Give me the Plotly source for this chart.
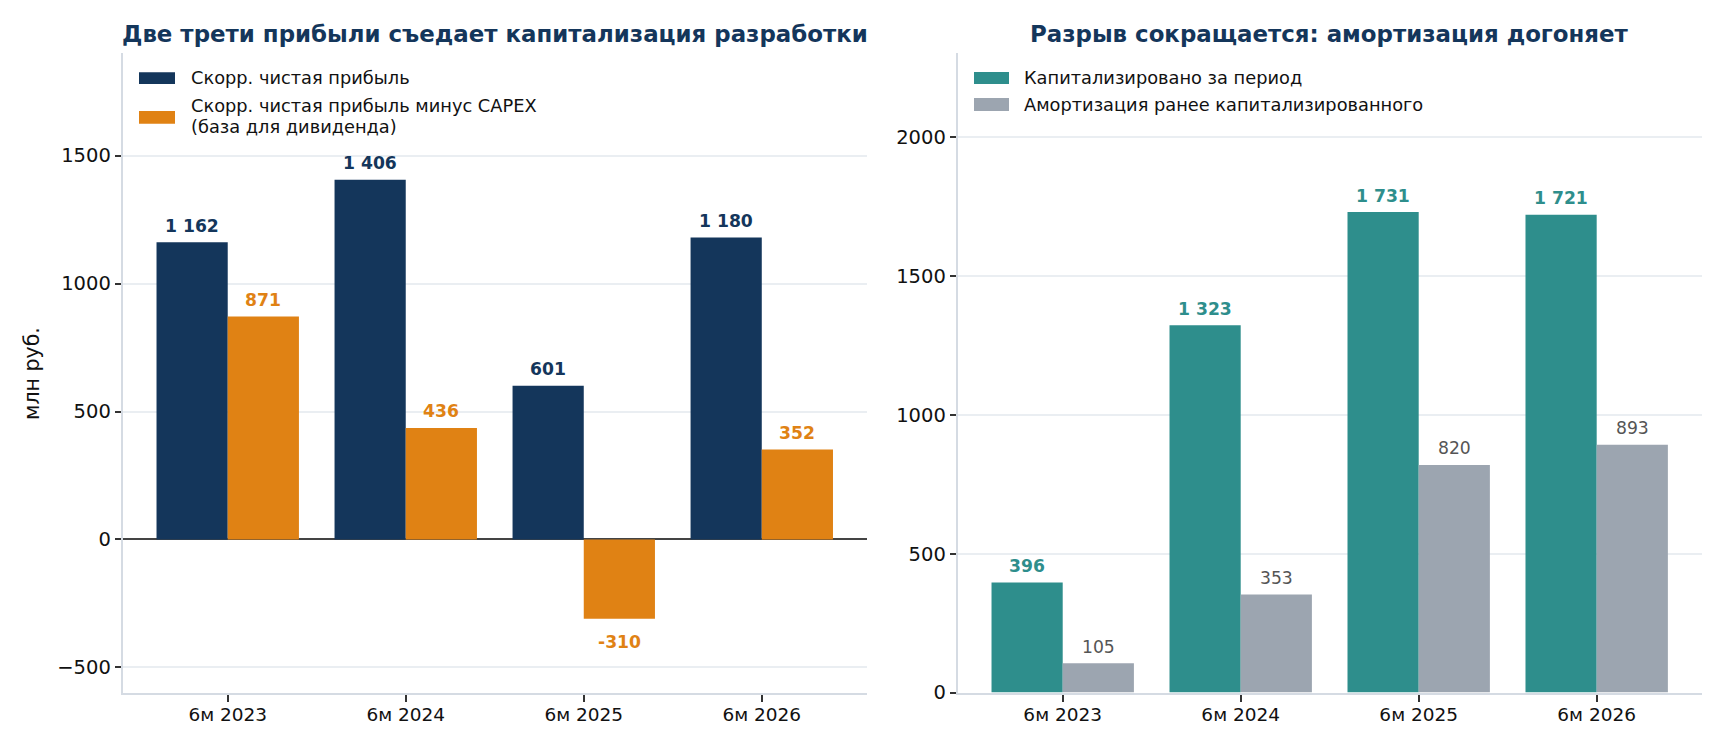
import plotly.graph_objects as go

# data (млн руб.)
categories = ["6м 2023", "6м 2024", "6м 2025", "6м 2026"]
adj_net_profit = [1162, 1406, 601, 1180]
profit_minus_capex = [871, 436, -310, 352]
capitalized = [396, 1323, 1731, 1721]
amortization = [105, 353, 820, 893]

left_title = "Две трети прибыли съедает капитализация разработки"
right_title = "Разрыв сокращается: амортизация догоняет"
y_label = "млн руб."

NAVY = "#14365B"
ORANGE = "#E08214"
TEAL = "#2E8E8C"
GREY = "#9CA5B0"
GREY_TXT = "#555555"
SPINE = "#D5DBE3"
GRID = "#EAEEF2"
FONT = "DejaVu Sans"

# page body has an 8px margin, so the figure is shrunk and positions shifted
PAD = 8
W, H = 1725 - 2 * PAD, 750 - 2 * PAD


def px_x(p):
    return (p - PAD) / W


def px_y(p):
    return 1 - (p - PAD) / H


def fmt(v):
    return f"{v:,}".replace(",", " ")


pos = list(range(len(categories)))

fig = go.Figure()

# left panel
fig.add_trace(go.Bar(x=pos, y=adj_net_profit, offset=-0.4, width=0.4,
                     marker=dict(color=NAVY, line_width=0), xaxis="x", yaxis="y",
                     hoverinfo="skip"))
fig.add_trace(go.Bar(x=pos, y=profit_minus_capex, offset=0, width=0.4,
                     marker=dict(color=ORANGE, line_width=0), xaxis="x", yaxis="y",
                     hoverinfo="skip"))
# right panel
fig.add_trace(go.Bar(x=pos, y=capitalized, offset=-0.4, width=0.4,
                     marker=dict(color=TEAL, line_width=0), xaxis="x2", yaxis="y2",
                     hoverinfo="skip"))
fig.add_trace(go.Bar(x=pos, y=amortization, offset=0, width=0.4,
                     marker=dict(color=GREY, line_width=0), xaxis="x2", yaxis="y2",
                     hoverinfo="skip"))

annotations = []


def bar_labels(values, shift, color, bold, xref, yref):
    for i, v in enumerate(values):
        txt = fmt(v) if v >= 0 else "-" + fmt(-v)
        annotations.append(dict(
            x=i + shift, y=v, xref=xref, yref=yref, showarrow=False,
            text=f"<b>{txt}</b>" if bold else txt,
            font=dict(family=FONT, size=17.2, color=color),
            xanchor="center", yanchor="middle",
            yshift=16.5 if v >= 0 else -22.7,
        ))


bar_labels(adj_net_profit, -0.2, NAVY, True, "x", "y")
bar_labels(profit_minus_capex, 0.2, ORANGE, True, "x", "y")
bar_labels(capitalized, -0.2, TEAL, True, "x2", "y2")
bar_labels(amortization, 0.2, GREY_TXT, False, "x2", "y2")

# titles
for txt, cx in [(left_title, (122.7 + 866.8) / 2), (right_title, (957.7 + 1701.7) / 2)]:
    annotations.append(dict(
        x=px_x(cx), y=px_y(34), xref="paper", yref="paper", showarrow=False,
        text=f"<b>{txt}</b>", font=dict(family=FONT, size=22.9, color=NAVY),
        xanchor="center", yanchor="middle",
    ))

# y axis label
annotations.append(dict(
    x=px_x(32), y=px_y(374), xref="paper", yref="paper", showarrow=False,
    text=y_label, textangle=-90, font=dict(family=FONT, size=20.5, color="#111111"),
    xanchor="center", yanchor="middle",
))

# legends (matplotlib-style wide swatches)
shapes = []
legend_items = [
    (139, 175, 72.3, 84, NAVY, 189, [("Скорр. чистая прибыль", 78)]),
    (139, 175, 111, 123.7, ORANGE, 189,
     [("Скорр. чистая прибыль минус CAPEX", 106), ("(база для дивиденда)", 126.7)]),
    (974, 1009, 72, 84, TEAL, 1022, [("Капитализировано за период", 78)]),
    (974, 1009, 98, 111, GREY, 1022, [("Амортизация ранее капитализированного", 104.5)]),
]
for x0, x1, y0, y1, col, tx, lines in legend_items:
    shapes.append(dict(type="rect", xref="paper", yref="paper",
                       x0=px_x(x0), x1=px_x(x1), y0=px_y(y1), y1=px_y(y0),
                       fillcolor=col, line_width=0))
    for line, ty in lines:
        annotations.append(dict(
            x=px_x(tx), y=px_y(ty), xref="paper", yref="paper", showarrow=False,
            text=line, font=dict(family=FONT, size=17.8, color="#111111"),
            xanchor="left", yanchor="middle",
        ))

xaxis_common = dict(
    range=[-0.59, 3.59], tickmode="array", tickvals=pos, ticktext=categories,
    showgrid=False, zeroline=False, showline=True, linecolor=SPINE, linewidth=2,
    ticks="outside", ticklen=7, tickwidth=1.6, tickcolor="#333333",
    ticklabelstandoff=-3,
    tickfont=dict(family=FONT, size=18.5, color="#111111"), automargin=False,
    fixedrange=True,
)
yaxis_common = dict(
    showgrid=True, gridcolor=GRID, gridwidth=1.5, showline=True, linecolor=SPINE,
    linewidth=2, ticks="outside", ticklen=6, tickwidth=1.6, tickcolor="#333333",
    tickfont=dict(family=FONT, size=19.5, color="#111111"), automargin=False,
    fixedrange=True, tickmode="array",
)

y_dom = [px_y(692.5), px_y(53.3)]

fig.update_layout(
    width=W, height=H,
    margin=dict(l=0, r=0, t=0, b=0),
    template="none",
    paper_bgcolor="white", plot_bgcolor="white",
    barmode="overlay", showlegend=False,
    font=dict(family=FONT, color="#111111"),
    xaxis=dict(domain=[px_x(122.7), px_x(866.8)], anchor="y", **xaxis_common),
    yaxis=dict(domain=y_dom, anchor="x", range=[-598, 1900],
               tickvals=[-500, 0, 500, 1000, 1500], zeroline=True,
               zerolinecolor="#444444", zerolinewidth=1.6, **yaxis_common),
    xaxis2=dict(domain=[px_x(957.7), px_x(1701.7)], anchor="y2", **xaxis_common),
    yaxis2=dict(domain=y_dom, anchor="x2", range=[0, 2303],
                tickvals=[0, 500, 1000, 1500, 2000], zeroline=False, **yaxis_common),
    annotations=annotations,
    shapes=shapes,
)

fig.write_html("out.html")
